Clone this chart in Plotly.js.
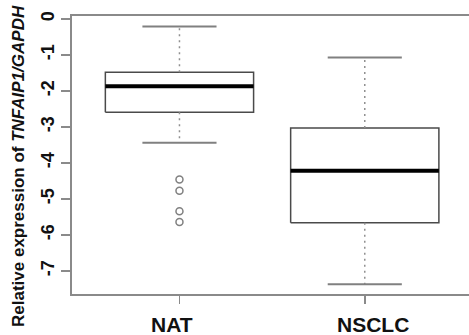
<!DOCTYPE html>
<html>
<head>
<meta charset="utf-8">
<script src="https://cdn.plot.ly/plotly-3.0.1.min.js"></script>
<style>
html,body{margin:0;padding:0;background:#fff;}
#chart{width:469px;height:335px;}
</style>
</head>
<body>
<div id="chart"></div>
<script>
// ---- data ----
var categories = ['NAT', 'NSCLC'];
var positions = [1, 2];
var upperWhisker = [-0.21, -1.07];
var q3 = [-1.48, -3.03];
var medians = [-1.87, -4.22];
var q1 = [-2.59, -5.66];
var lowerWhisker = [-3.44, -7.37];
var natOutliers = [-4.46, -4.77, -5.34, -5.64];
var nsclcOutliers = [];
var outliers = [natOutliers, nsclcOutliers];
var yTickVals = [0, -1, -2, -3, -4, -5, -6, -7];
var yTickText = ['0', '-1', '-2', '-3', '-4', '-5', '-6', '-7'];
var yTitle = 'Relative expression of <i>TNFAIP1/GAPDH</i>';

// ---- styling ----
var boxHalf = 0.4, capHalf = 0.2;
var frameColor = '#8a8a8a';
var boxColor = '#4a4a4a';
var whiskColor = '#808080';

var traces = [];
for (var i = 0; i < categories.length; i++) {
  var c = positions[i];
  traces.push({
    type: 'scatter', mode: 'lines',
    x: [c - boxHalf, c + boxHalf, c + boxHalf, c - boxHalf, c - boxHalf],
    y: [q1[i], q1[i], q3[i], q3[i], q1[i]],
    fill: 'toself', fillcolor: '#ffffff',
    line: {color: boxColor, width: 1.5},
    hoverinfo: 'skip', showlegend: false
  });
  traces.push({
    type: 'scatter', mode: 'lines',
    x: [c - boxHalf, c + boxHalf], y: [medians[i], medians[i]],
    line: {color: '#000000', width: 4},
    hoverinfo: 'skip', showlegend: false
  });
  traces.push({
    type: 'scatter', mode: 'lines',
    x: [c, c, null, c, c],
    y: [q3[i], upperWhisker[i], null, q1[i], lowerWhisker[i]],
    line: {color: '#909090', width: 1.5, dash: '2px,4px'},
    hoverinfo: 'skip', showlegend: false
  });
  traces.push({
    type: 'scatter', mode: 'lines',
    x: [c - capHalf, c + capHalf, null, c - capHalf, c + capHalf],
    y: [upperWhisker[i], upperWhisker[i], null, lowerWhisker[i], lowerWhisker[i]],
    line: {color: whiskColor, width: 2},
    hoverinfo: 'skip', showlegend: false
  });
  if (outliers[i].length) {
    traces.push({
      type: 'scatter', mode: 'markers',
      x: outliers[i].map(function () { return c; }),
      y: outliers[i],
      marker: {symbol: 'circle-open', size: 7, color: whiskColor, line: {width: 1.5, color: whiskColor}},
      hoverinfo: 'skip', showlegend: false
    });
  }
}

var plotL = 72, plotR = 0, plotT = 16, plotB = 41;
var W = 469, H = 335;
var plotW = W - plotL - plotR, plotH = H - plotT - plotB;

var annotations = [];
var xShifts = [-7, 8];
for (var j = 0; j < categories.length; j++) {
  annotations.push({
    text: '<b>' + categories[j] + '</b>',
    x: positions[j], xref: 'x',
    y: (H - plotB - 324.5) / plotH, yref: 'paper',
    xanchor: 'center', yanchor: 'middle',
    xshift: xShifts[j],
    showarrow: false,
    font: {family: 'Liberation Sans, Arial, sans-serif', size: 21, color: '#111'}
  });
}
annotations.push({
  text: '<b>' + yTitle + '</b>',
  xref: 'paper', yref: 'paper',
  x: (18 - plotL) / plotW, y: (H - plotB - 166) / plotH,
  xanchor: 'center', yanchor: 'middle',
  textangle: -90, showarrow: false,
  font: {family: 'Liberation Sans, Arial, sans-serif', size: 17, color: '#111'}
});

var layout = {
  width: W, height: H,
  margin: {l: plotL, r: plotR, t: plotT, b: plotB, pad: 0},
  paper_bgcolor: '#ffffff', plot_bgcolor: '#ffffff',
  showlegend: false,
  xaxis: {
    range: [0.42, 0.42 + plotW / 185.3],
    tickvals: positions, ticktext: ['', ''],
    showticklabels: false,
    ticks: 'outside', ticklen: 8, tickwidth: 1.5, tickcolor: frameColor,
    showline: true, mirror: true, linecolor: frameColor, linewidth: 2,
    showgrid: false, zeroline: false, fixedrange: true
  },
  yaxis: {
    range: [-7.64, 0.08],
    tickvals: yTickVals, ticktext: yTickText,
    tickangle: -90,
    ticks: 'outside', ticklen: 9, tickwidth: 1.5, tickcolor: frameColor,
    tickfont: {family: 'Liberation Sans Narrow, Liberation Sans, Arial, sans-serif', size: 18, color: '#111', weight: 'bold'},
    showline: true, mirror: false, linecolor: frameColor, linewidth: 2,
    showgrid: false, zeroline: false, fixedrange: true
  },
  annotations: annotations
};

Plotly.newPlot('chart', traces, layout, {displayModeBar: false, staticPlot: true});
</script>
</body>
</html>
